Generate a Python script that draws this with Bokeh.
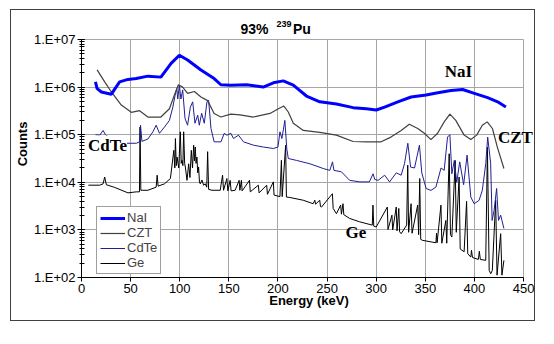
from bokeh.plotting import figure
from bokeh.models import (Label, Legend, LegendItem,
                          CustomJSTickFormatter, FixedTicker)
from bokeh.embed import file_html
from bokeh.resources import INLINE

# ---------------- data ----------------
x_ticks = [0, 50, 100, 150, 200, 250, 300, 350, 400, 450]

nai_e = [14.2, 15.9, 20.3, 30.4, 38.8, 47.3, 55.7, 67.6, 80.8, 91.2, 99.6, 108, 121.6,
         135, 141.9, 152, 168, 185, 195.3, 205.4, 215.6, 229, 242.6, 259.5, 276.5, 290,
         300, 308.6, 322, 335.5, 350.8, 362.7, 376.2, 388, 399.9, 413.4, 423.6, 432]
nai_c = [1.29e6, 9.3e5, 7.9e5, 7.1e5, 1.29e6, 1.45e6, 1.51e6, 1.7e6, 1.62e6, 3.16e6, 4.68e6,
         3.7e6, 2.29e6, 1.51e6, 1.12e6, 1.1e6, 1.12e6, 1.0e6, 1.23e6, 1.35e6, 1.1e6, 6.5e5,
         4.9e5, 4.4e5, 3.7e5, 3.5e5, 3.3e5, 3.8e5, 4.9e5, 6.2e5, 6.8e5, 7.6e5, 8.5e5, 8.9e5,
         7.4e5, 6.0e5, 4.9e5, 3.8e5]

czt_e = [15.9, 23.6, 30.4, 40.5, 50.7, 59.1, 67.6, 80.8, 89.5, 94.6, 98.6, 103, 108, 114.9,
         121.6, 128.4, 135, 141.9, 152, 161.4, 175, 191.9, 200.4, 206, 210.5, 215.6, 225.8,
         242.6, 259.5, 276.5, 290, 305, 315, 325.4, 333.7, 342.3, 349, 355.7, 362.5, 369.2,
         375, 381, 389.5, 396.3, 402.3, 408, 413, 418.3, 423.3, 430]
czt_c = [2.3e6, 1.29e6, 7.9e5, 4.2e5, 2.95e5, 3.2e5, 2.35e5, 2.35e5, 3.5e5, 6.8e5, 1.12e6,
         1.0e6, 7.4e5, 8.1e5, 6.2e5, 5.2e5, 2.8e5, 2.35e5, 2.7e5, 2.6e5, 2.35e5, 2.8e5, 3.5e5,
         4.0e5, 3.0e5, 1.74e5, 1.23e5, 1.12e5, 9.8e4, 7.2e4, 7.1e4, 7.1e4, 8.9e4, 1.23e5,
         1.66e5, 1.35e5, 1.07e5, 7.9e4, 1.07e5, 1.86e5, 2.7e5, 2.0e5, 9.8e4, 7.9e4, 9.8e4,
         1.58e5, 1.86e5, 1.35e5, 5.5e4, 1.95e4]

cdte_e = [14.2, 18.5, 22, 24.3, 33.8, 44, 55.7, 59.1, 60.1, 61.5, 67.6, 72.7, 76, 79.4, 84.5,
          89.5, 93, 95.3, 97, 98, 99.6, 101.2, 103, 105.4, 108, 110.8, 113.2, 115.5, 118.3,
          119.9, 122.3, 125, 127.7, 129.4, 131.8, 135, 142, 145.3, 148, 152, 154.7, 159.8,
          164.9, 175, 185.2, 195.3, 200, 202, 204, 207, 209, 210.5, 219, 232.5, 246, 252.8,
          255.5, 257, 264.6, 273, 283.3, 293, 296.8, 298.5, 302, 308.6, 313.6, 320.4, 325.4,
          328.8, 332.2, 335, 339, 344, 346.4, 350.8, 355.8, 360.8, 366, 369.2, 372.6, 375,
          377, 379.5, 382, 385, 389, 392.5, 396.3, 399.7, 404.7, 408, 411.5, 413.5, 416.5,
          418, 420, 422.6, 424.5, 426.7, 428, 430]
cdte_c = [100000, 97700, 123000, 100000, 72400, 66100, 66100, 70800, 158000, 72400, 81300,
          115000, 158000, 107000, 145000, 200000, 380000, 676000, 933000, 562000, 1100000,
          562000, 871000, 219000, 158000, 380000, 490000, 174000, 257000, 158000, 282000,
          174000, 490000, 525000, 135000, 70800, 70800, 107000, 97700, 107000, 83200, 97700,
          70800, 60300, 55000, 51300, 55000, 115000, 83200, 200000, 50100, 31600, 28800,
          24500, 19500, 17800, 26900, 17800, 16600, 11000, 10200, 10200, 15100, 11500, 11000,
          14100, 10200, 15800, 14100, 24500, 66100, 20900, 20000, 60300, 15800, 7410, 6760,
          7940, 20000, 17800, 89100, 100000, 15100, 28800, 10000, 26900, 8910, 37200, 4900,
          3550, 4170, 6760, 24500, 89100, 25100, 1580, 2570, 7410, 1580, 2040, 1580, 1070]

ge_e = [7, 18.5, 22, 23.6, 25.3, 33.8, 47.3, 55.7, 59, 59.6, 60.4, 67.6, 76, 77, 78, 84.5,
        90.5, 94, 95, 95.6, 96.5, 97.3, 99, 100.6, 101.5, 102.4, 103.2, 104, 105, 105.7,
        107.4, 109.1, 110.4, 111.8, 113, 114.2, 115, 115.8, 116.6, 117.5, 118.3, 119.2,
        120.1, 120.9, 122.6, 124.3, 126, 127.5, 128.4, 129.4, 132.8, 141.2, 143.6, 144.6,
        148, 149, 151.3, 152.3, 156.4, 160.5, 161.2, 162.8, 163.5, 171, 171.8, 180, 180.8,
        188.5, 189.3, 195.3, 196, 202, 203.5, 204.3, 207.8, 208.6, 212, 225.7, 235.8, 237.5,
        238.3, 242.5, 243.3, 244.3, 255.4, 256.2, 259.5, 263.8, 264.6, 266.2, 267, 273, 283,
        296, 296.7, 297.5, 300, 311.3, 312, 316, 316.8, 320.4, 321.2, 323, 323.8, 325.4, 331,
        332.1, 333, 335.5, 336.5, 342.2, 343.2, 344.3, 345.3, 347.2, 360.8, 361.4, 362,
        365.9, 366.8, 370.9, 371.8, 374.3, 375.6, 377, 380.4, 381.5, 384.4, 385.5, 389.5,
        392, 393.2, 396.3, 397, 398, 404, 405, 406, 411.5, 413.2, 415, 416.6, 418.2, 421.6,
        423, 426.7, 428, 430]
ge_c = [8700, 8700, 9300, 12900, 8900, 7800, 6000, 6300, 6300, 145000, 6800, 6800, 7900,
        14100, 8300, 9300, 12000, 47000, 20000, 83000, 22400, 34000, 20000, 115000, 25000,
        29000, 22400, 115000, 25000, 21000, 11000, 24500, 12600, 47000, 20000, 60000, 28000,
        55000, 25000, 34000, 15800, 21000, 10000, 9300, 11200, 8700, 9300, 7900, 44000, 7100,
        6800, 6800, 14100, 6800, 12000, 6600, 11000, 6600, 6800, 11000, 6800, 11000, 6600,
        11000, 6300, 8700, 6000, 8700, 5600, 10200, 5400, 5000, 29000, 5000, 60000, 4900,
        4800, 4200, 3550, 4200, 3470, 4200, 3090, 3020, 5750, 2820, 2190, 3310, 2140, 3550,
        2090, 1740, 1480, 1260, 3310, 1200, 1150, 3020, 1020, 2040, 1000, 3020, 955, 2820,
        912, 832, 1260, 22900, 891, 3550, 851, 3310, 794, 12000, 631, 603, 537, 851, 537,
        3310, 525, 1580, 525, 39800, 794, 708, 28800, 891, 12900, 398, 347, 3980, 316, 269,
        372, 263, 240, 355, 240, 229, 55000, 141, 120, 141, 4170, 112, 832, 112, 229]

series_names = ["NaI", "CZT", "CdTe", "Ge"]

# ---------------- layout geometry (page pixels) ----------------
SANS = "Liberation Sans"
SERIF = "Liberation Serif"

BOX_L, BOX_T, BOX_R, BOX_B = 10, 9, 536, 322        # outer border
PL, PT, PR, PB = 79, 39, 523, 277                   # axes area (0..450, 1e2..1e7)
OX, OY = BOX_L + 1, BOX_T + 1                       # canvas origin on page
CW, CH = BOX_R - OX, BOX_B - OY                     # canvas size

# frame extends to the right and top of the canvas so texts there are not clipped;
# axes and grids are bounded to the real data area
x_end = 450 * (OX + CW - PL) / (PR - PL)
y_top = 10 ** (2 + 5 * (PB - OY) / (PB - PT))

p = figure(width=CW, height=CH, x_range=(0, x_end), y_range=(1e2, y_top),
           y_axis_type="log", output_backend="svg", toolbar_location=None,
           min_border_left=PL - OX, min_border_right=0, min_border_top=0,
           min_border_bottom=OY + CH - PB)
p.margin = (BOX_T, 0, 0, BOX_L)
p.styles = {"border": "1px solid #404040"}
p.background_fill_color = "white"
p.border_fill_color = "white"
p.outline_line_color = None

p.xaxis.bounds = (0, 450)
p.yaxis.bounds = (1e2, 1e7)
p.xgrid.cross_bounds = (1e2, 1e7)
p.ygrid.cross_bounds = (0, 450)
p.xgrid.grid_line_color = "#a6a6a6"
p.ygrid.grid_line_color = "#a6a6a6"

p.xaxis.ticker = FixedTicker(ticks=x_ticks)
p.xaxis.major_tick_out = 4
p.xaxis.major_tick_in = 0
p.xaxis.axis_label = "Energy (keV)"

p.yaxis.formatter = CustomJSTickFormatter(
    code='return "1.E+" + String(Math.round(Math.log10(tick))).padStart(2, "0");')
p.yaxis.major_tick_out = 4
p.yaxis.major_tick_in = 3
p.yaxis.minor_tick_out = 2
p.yaxis.minor_tick_in = 3
p.yaxis.axis_label = "Counts"

for ax in (p.xaxis[0], p.yaxis[0]):
    ax.axis_line_color = "black"
    ax.major_tick_line_color = "black"
    ax.major_label_text_font = SANS
    ax.major_label_text_font_size = "13px"
    ax.major_label_text_color = "black"
    ax.axis_label_text_font = SANS
    ax.axis_label_text_font_size = "13px"
    ax.axis_label_text_font_style = "bold"
    ax.axis_label_text_color = "black"
    ax.major_label_standoff = 2
p.xaxis.axis_label_standoff = -3
p.yaxis.axis_label_standoff = 1
p.xaxis.minor_tick_line_color = None
p.yaxis.minor_tick_line_color = "black"

# ---------------- lines ----------------
r_ge = p.line(ge_e, ge_c, line_color="black", line_width=1)
r_cdte = p.line(cdte_e, cdte_c, line_color="#1f1f96", line_width=1)
r_czt = p.line(czt_e, czt_c, line_color="#404040", line_width=1.2)
r_nai = p.line(nai_e, nai_c, line_color="#0000ff", line_width=3)

legend = Legend(items=[LegendItem(label=series_names[0], renderers=[r_nai]),
                       LegendItem(label=series_names[1], renderers=[r_czt]),
                       LegendItem(label=series_names[2], renderers=[r_cdte]),
                       LegendItem(label=series_names[3], renderers=[r_ge])],
                location=(15, 3))
legend.border_line_color = "#404040"
legend.background_fill_color = "white"
legend.background_fill_alpha = 1
legend.label_text_font = SANS
legend.label_text_font_size = "13px"
legend.label_height = 12
legend.glyph_height = 12
legend.glyph_width = 25
legend.spacing = -2
legend.padding = 3
legend.margin = 0
legend.label_standoff = 2
p.add_layout(legend)

# ---------------- annotations ----------------
def canvas_label(x, y, text, size, font, align="left", baseline="alphabetic", bg=None):
    lab = Label(x=x - OX, y=y - OY, x_units="canvas", y_units="canvas",
                text=text, text_align=align, text_baseline=baseline,
                text_font=font, text_font_style="bold", text_font_size=size,
                text_color="black")
    if bg:
        lab.background_fill_color = bg
    p.add_layout(lab)

canvas_label(457, 70, "NaI", "17px", SERIF, align="center", baseline="middle")
canvas_label(496.5, 136, "CZT", "17px", SERIF, baseline="middle")
canvas_label(86.5, 143.5, "CdTe", "17px", SERIF, baseline="middle", bg="white")
canvas_label(344, 231, "Ge", "17px", SERIF, baseline="middle")

canvas_label(239, 27, "93%", "14px", SANS, baseline="middle")
canvas_label(275, 22, "239", "9px", SANS, baseline="middle")
canvas_label(291.5, 27, "Pu", "14px", SANS, baseline="middle")

open("out.html", "w").write(file_html(p, INLINE))
